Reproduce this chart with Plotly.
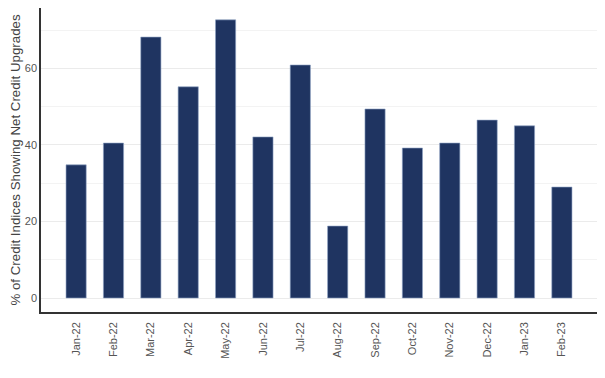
import plotly.graph_objects as go

months = ["Jan-22", "Feb-22", "Mar-22", "Apr-22", "May-22", "Jun-22", "Jul-22",
          "Aug-22", "Sep-22", "Oct-22", "Nov-22", "Dec-22", "Jan-23", "Feb-23"]
pct_upgrades = [34.8, 40.5, 68.2, 55.2, 72.7, 42.1, 60.9,
                18.8, 49.4, 39.2, 40.5, 46.5, 45.0, 29.0]

fig = go.Figure(go.Bar(
    x=months, y=pct_upgrades,
    marker=dict(color="#1f3461", line=dict(color="#8fa3c4", width=0.6)),
    width=0.54,
))

fig.update_layout(
    width=597, height=370,
    margin=dict(l=33, r=8, t=0, b=66, autoexpand=False),
    plot_bgcolor="white", paper_bgcolor="white",
    font=dict(family="Liberation Sans, Arial", color="#444444"),
    showlegend=False,
    bargap=0.46,
)
fig.update_xaxes(
    type="category", range=[-0.94, 13.94], automargin=False,
    tickangle=-90, tickfont=dict(size=11, color="#555555"),
    showline=True, linecolor="#333333", linewidth=1.5,
    showgrid=False, ticks="", ticklabelstandoff=4,
)
fig.update_yaxes(
    range=[-3.66, 75.8], automargin=False,
    tickvals=[0, 20, 40, 60], tickfont=dict(size=11, color="#555555"),
    title=dict(text="% of Credit Indices Showing Net Credit Upgrades",
               font=dict(size=13.3, color="#444444"), standoff=1),
    showline=True, linecolor="#333333", linewidth=1.5,
    showgrid=True, gridcolor="#ebebeb", gridwidth=1,
    minor=dict(tickvals=[10, 30, 50, 70], showgrid=True, gridcolor="#f3f3f3", gridwidth=1),
    zeroline=False, ticks="",
)

fig.write_html("out.html")
